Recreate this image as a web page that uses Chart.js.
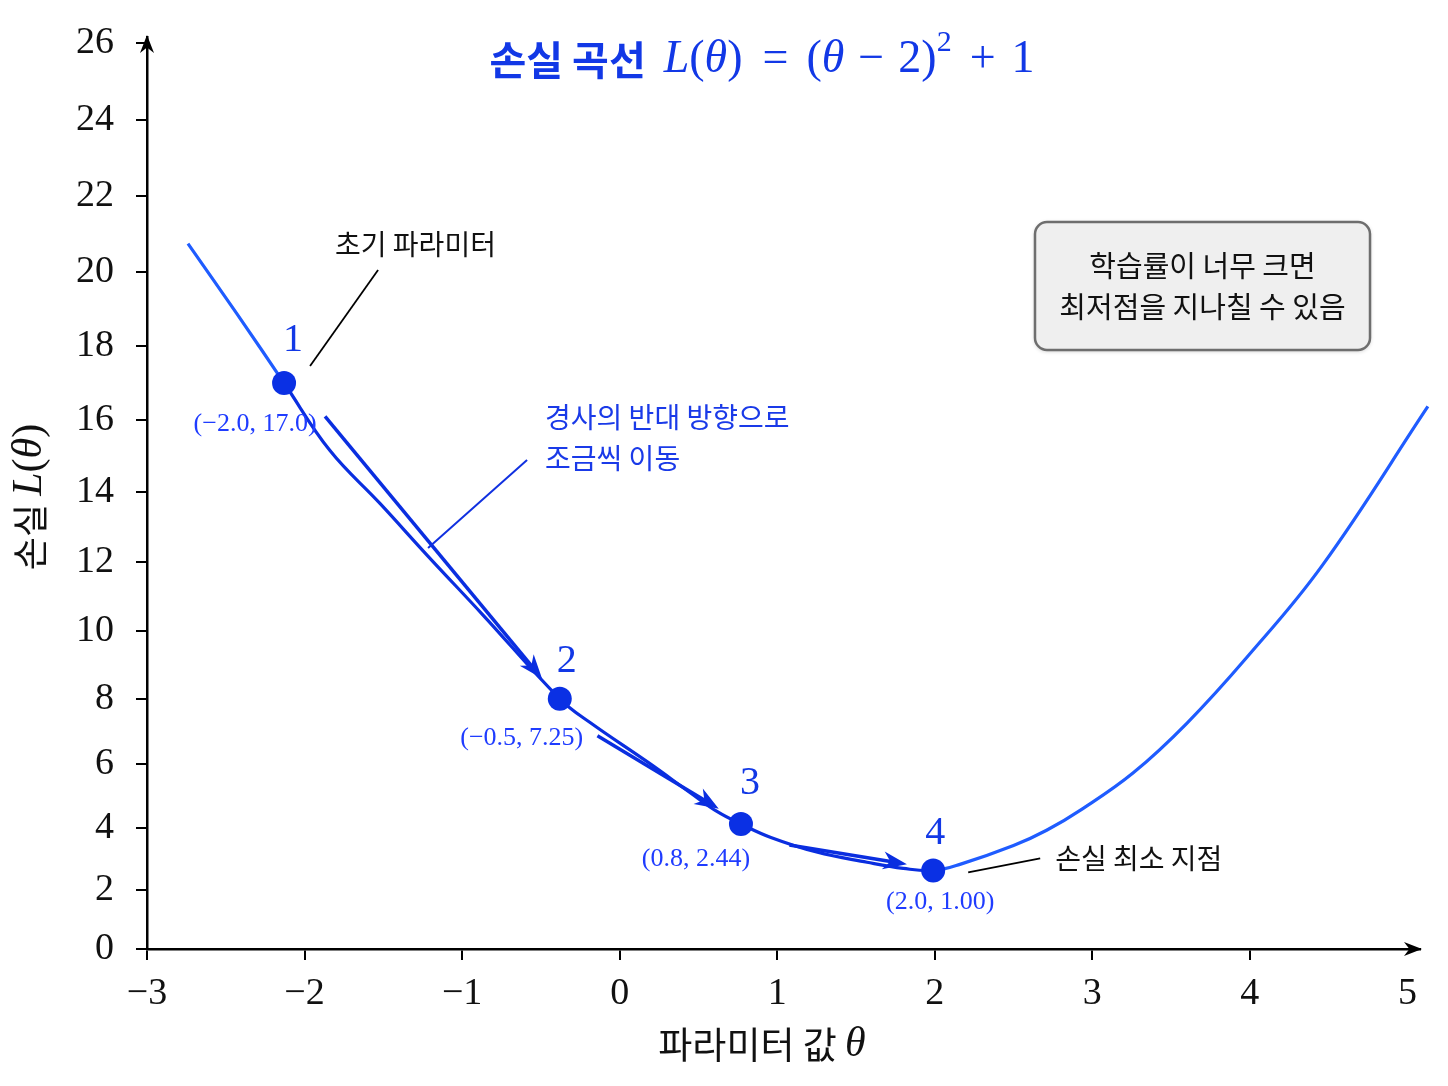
<!DOCTYPE html>
<html lang="ko">
<head>
<meta charset="utf-8">
<title>손실 곡선</title>
<script src="https://cdn.jsdelivr.net/npm/chart.js@4.4.1/dist/chart.umd.min.js"></script>
<style>
  html, body { margin: 0; padding: 0; background: #fff; }
  #wrap { width: 1448px; height: 1086px; }
</style>
</head>
<body>
<div id="wrap"><canvas id="lossChart"></canvas></div>
<script>
// 그림에서 읽은 곡선 위의 점들 (θ, L)
const curveTheta = [-2.74, -2.43, -2.13, -1.84, -1.52, -1.22, -0.87, -0.38, -0.19, 0.19, 0.45, 0.62, 0.77,
                    0.96, 1.25, 1.57, 1.80, 1.99, 2.16, 2.50, 2.71, 2.94, 3.26, 3.60, 3.98, 4.46, 5.13];
const curveLoss = [20.75, 18.88, 17.0, 15.15, 13.66, 12.19, 10.49, 8.0, 7.29, 6.03, 5.11, 4.52, 4.13,
                   3.70, 3.23, 2.9, 2.7, 2.63, 2.83, 3.44, 3.93, 4.62, 5.74, 7.26, 9.23, 11.91, 16.36];

// 경사하강 단계
const stepTheta = [-2.13, -0.38, 0.77, 1.99];
const stepLoss = [17.0, 8.0, 4.13, 2.63];
const stepNames = ['1', '2', '3', '4'];
const stepLabels = ['(\u22122.0, 17.0)', '(\u22120.5, 7.25)', '(0.8, 2.44)', '(2.0, 1.00)'];

const xTicks = [-3, -2, -1, 0, 1, 2, 3, 4, 5];
const yTicks = [0, 2, 4, 6, 8, 10, 12, 14, 16, 18, 20, 22, 24, 26];

const SERIF = '"Liberation Serif", "DejaVu Serif", serif';
const SANS = '"Noto Sans CJK KR", "Noto Sans", sans-serif';
const BLUE = '#1238e6';
const DARK = '#0a2ee0';

// y축: 눈금 간격이 아래쪽은 좁고 위쪽은 넓다
const warp = v => v + 0.010183 * v * v - 0.00009946 * v * v * v;
function unwarp(w) {
    let lo = -5, hi = 40;
    for (let i = 0; i < 50; i++) {
        const mid = (lo + hi) / 2;
        if (warp(mid) < w) lo = mid; else hi = mid;
    }
    return (lo + hi) / 2;
}

class WarpedScale extends Chart.LinearScale {
    getPixelForValue(value) {
        if (value === null || value === undefined) return NaN;
        const a = warp(this.min), b = warp(this.max);
        return this.getPixelForDecimal((warp(value) - a) / (b - a));
    }
    getValueForPixel(pixel) {
        const a = warp(this.min), b = warp(this.max);
        return unwarp(a + this.getDecimalForPixel(pixel) * (b - a));
    }
}
WarpedScale.id = 'warped';
WarpedScale.defaults = Chart.LinearScale.defaults;
Chart.register(WarpedScale);

// 여러 글꼴이 섞인 한 줄 (숫자 항목은 빈 간격)
function drawPieces(ctx, pieces, cx, cy) {
    const width = p => {
        if (typeof p === 'number') return p;
        ctx.font = p[1];
        return ctx.measureText(p[0]).width;
    };
    const total = pieces.reduce((s, p) => s + width(p), 0);
    let x = cx - total / 2;
    ctx.textAlign = 'left';
    ctx.textBaseline = 'middle';
    pieces.forEach(p => {
        const w = width(p);
        if (typeof p !== 'number') ctx.fillText(p[0], x, cy + (p[2] || 0));
        x += w;
    });
}

function text(ctx, str, x, y, font, color, align) {
    ctx.font = font;
    ctx.fillStyle = color;
    ctx.textAlign = align || 'center';
    ctx.textBaseline = 'middle';
    ctx.fillText(str, x, y);
}

function line(ctx, x1, y1, x2, y2, color, w) {
    ctx.strokeStyle = color;
    ctx.lineWidth = w;
    ctx.beginPath();
    ctx.moveTo(x1, y1);
    ctx.lineTo(x2, y2);
    ctx.stroke();
}

function head(ctx, x, y, ux, uy, len, half, color) {
    ctx.fillStyle = color;
    ctx.beginPath();
    ctx.moveTo(x, y);
    ctx.lineTo(x - ux * len - uy * half, y - uy * len + ux * half);
    ctx.lineTo(x - ux * len * 0.7, y - uy * len * 0.7);
    ctx.lineTo(x - ux * len + uy * half, y - uy * len - ux * half);
    ctx.closePath();
    ctx.fill();
}

const arrowSide = [-1, 1, 1];

const decor = {
    id: 'decor',
    afterDatasetsDraw(chart) {
        const { ctx, chartArea: ca, scales: { x, y } } = chart;
        const P = i => ({ x: x.getPixelForValue(stepTheta[i]), y: y.getPixelForValue(stepLoss[i]) });
        ctx.save();
        ctx.lineCap = 'butt';

        // 축 화살표
        head(ctx, ca.right + 2, ca.bottom, 1, 0, 18, 7, '#000');
        head(ctx, ca.left, ca.top - 2, 0, -1, 18, 7, '#000');

        // 단계 사이 이동 화살표
        for (let i = 0; i < 3; i++) {
            const a = P(i), b = P(i + 1);
            const dx = b.x - a.x, dy = b.y - a.y, len = Math.hypot(dx, dy);
            const ux = dx / len, uy = dy / len, nx = -uy, ny = ux;
            const off = 9 * arrowSide[i];
            const sx = a.x + ux * 52 + nx * off, sy = a.y + uy * 52 + ny * off;
            const tx = b.x - ux * 27, ty = b.y - uy * 27;
            const ddx = tx - sx, ddy = ty - sy, dl = Math.hypot(ddx, ddy);
            const vx = ddx / dl, vy = ddy / dl;
            line(ctx, sx, sy, tx - vx * 15, ty - vy * 15, DARK, 3.5);
            head(ctx, tx, ty, vx, vy, 24, 9, DARK);
        }

        // 단계 번호와 좌표
        for (let i = 0; i < 4; i++) {
            const p = P(i);
            const nameOff = [[9, -43], [7, -37], [9, -40], [2, -37]][i];
            const labOff = [[-29, 41], [-38, 39], [-45, 35], [7, 32]][i];
            text(ctx, stepNames[i], p.x + nameOff[0], p.y + nameOff[1], '40px ' + SERIF, BLUE);
            text(ctx, stepLabels[i], p.x + labOff[0], p.y + labOff[1], '26px ' + SERIF, '#1f3cff');
        }

        // 초기 파라미터
        const p1 = P(0);
        line(ctx, p1.x + 26, p1.y - 17, p1.x + 94, p1.y - 113, '#000', 1.8);
        text(ctx, '초기 파라미터', p1.x + 51, p1.y - 139, '28px ' + SANS, '#111', 'left');

        // 경사 반대 방향 설명
        line(ctx, p1.x + 144, p1.y + 165, p1.x + 243, p1.y + 77, '#1030e0', 2);
        text(ctx, '경사의 반대 방향으로', p1.x + 261, p1.y + 34, '28px ' + SANS, '#1a3ae8', 'left');
        text(ctx, '조금씩 이동', p1.x + 261, p1.y + 75, '28px ' + SANS, '#1a3ae8', 'left');

        // 손실 최소 지점
        const p4 = P(3);
        line(ctx, p4.x + 35, p4.y + 2, p4.x + 107, p4.y - 12, '#000', 1.8);
        text(ctx, '손실 최소 지점', p4.x + 122, p4.y - 12, '28px ' + SANS, '#111', 'left');

        // 학습률 설명 상자
        const bx = ca.right - 385, by = ca.top + 185, bw = 335, bh = 128, r = 12;
        ctx.shadowColor = 'rgba(0,0,0,0.25)';
        ctx.shadowBlur = 4;
        ctx.shadowOffsetY = 1;
        ctx.beginPath();
        ctx.moveTo(bx + r, by);
        ctx.arcTo(bx + bw, by, bx + bw, by + bh, r);
        ctx.arcTo(bx + bw, by + bh, bx, by + bh, r);
        ctx.arcTo(bx, by + bh, bx, by, r);
        ctx.arcTo(bx, by, bx + bw, by, r);
        ctx.closePath();
        ctx.fillStyle = '#efefef';
        ctx.fill();
        ctx.shadowColor = 'transparent';
        ctx.strokeStyle = '#6e6e6e';
        ctx.lineWidth = 2.5;
        ctx.stroke();
        text(ctx, '학습률이 너무 크면', bx + bw / 2, by + 44, '29px ' + SANS, '#111');
        text(ctx, '최저점을 지나칠 수 있음', bx + bw / 2, by + 85, '29px ' + SANS, '#111');

        // 제목
        const M = '46px ' + SERIF, MI = 'italic 46px ' + SERIF;
        ctx.fillStyle = BLUE;
        drawPieces(ctx, [
            ['손실 곡선', 'bold 40px ' + SANS], 18,
            ['L', MI], ['(', M], ['\u03b8', MI], [')', M], 20,
            ['=', M], 18,
            ['(', M], ['\u03b8', MI], 14, ['\u2212', M], 14, ['2)', M],
            ['2', '30px ' + SERIF, -17], 18,
            ['+', M], 16, ['1', M]
        ], 762, 60);

        // 축 제목
        ctx.fillStyle = '#111';
        drawPieces(ctx, [
            ['파라미터 값 ', '37px ' + SANS],
            ['\u03b8', 'italic 42px ' + SERIF]
        ], 762, 1045);

        ctx.translate(30, 497);
        ctx.rotate(-Math.PI / 2);
        drawPieces(ctx, [
            ['손실 ', '36px ' + SANS],
            ['L', 'italic 42px ' + SERIF],
            ['(', '42px ' + SERIF],
            ['\u03b8', 'italic 42px ' + SERIF],
            [')', '42px ' + SERIF]
        ], 0, 0);
        ctx.restore();
    }
};

const ctx = document.getElementById('lossChart').getContext('2d');
new Chart(ctx, {
    type: 'line',
    data: {
        datasets: [
            {
                label: '손실 곡선',
                data: curveTheta.map((t, i) => ({ x: t, y: curveLoss[i] })),
                borderColor: '#1f5cff',
                borderWidth: 3.2,
                pointRadius: 0,
                tension: 0.4,
                clip: false,
                order: 1,
                segment: {
                    borderColor: c => (c.p0.parsed.x >= stepTheta[0] && c.p1.parsed.x <= stepTheta[3]) ? DARK : undefined
                }
            },
            {
                label: '단계',
                data: stepTheta.map((t, i) => ({ x: t, y: stepLoss[i] })),
                showLine: false,
                pointRadius: 12,
                pointBackgroundColor: '#0a30e4',
                pointBorderWidth: 0,
                order: 0
            }
        ]
    },
    options: {
        responsive: true,
        maintainAspectRatio: false,
        animation: false,
        layout: { padding: { left: 0, right: 28, top: 37, bottom: 0 } },
        plugins: { legend: { display: false }, tooltip: { enabled: false } },
        scales: {
            x: {
                type: 'linear',
                min: -3,
                max: 5.08,
                afterBuildTicks: s => { s.ticks = xTicks.map(v => ({ value: v })); },
                afterFit: s => { s.height = 137; s.paddingLeft = 0; s.paddingRight = 0; },
                ticks: {
                    font: { family: SERIF, size: 38 },
                    color: '#111',
                    padding: 11,
                    maxRotation: 0,
                    callback: v => v < 0 ? '\u2212' + (-v) : String(v)
                },
                grid: {
                    drawOnChartArea: false,
                    tickLength: 11,
                    lineWidth: 2,
                    color: c => (c.tick && c.tick.value === 5) ? 'rgba(0,0,0,0)' : '#000'
                },
                border: { color: '#000', width: 2.5 }
            },
            y: {
                type: 'warped',
                min: 0,
                max: 26.16,
                afterBuildTicks: s => { s.ticks = yTicks.map(v => ({ value: v })); },
                afterFit: s => { s.width = 147; s.paddingTop = 0; s.paddingBottom = 0; },
                ticks: {
                    font: { family: SERIF, size: 38 },
                    color: '#111',
                    padding: 22
                },
                grid: {
                    drawOnChartArea: false,
                    tickLength: 11,
                    lineWidth: 2,
                    color: '#000'
                },
                border: { color: '#000', width: 2.5 }
            }
        }
    },
    plugins: [decor]
});
</script>
</body>
</html>
